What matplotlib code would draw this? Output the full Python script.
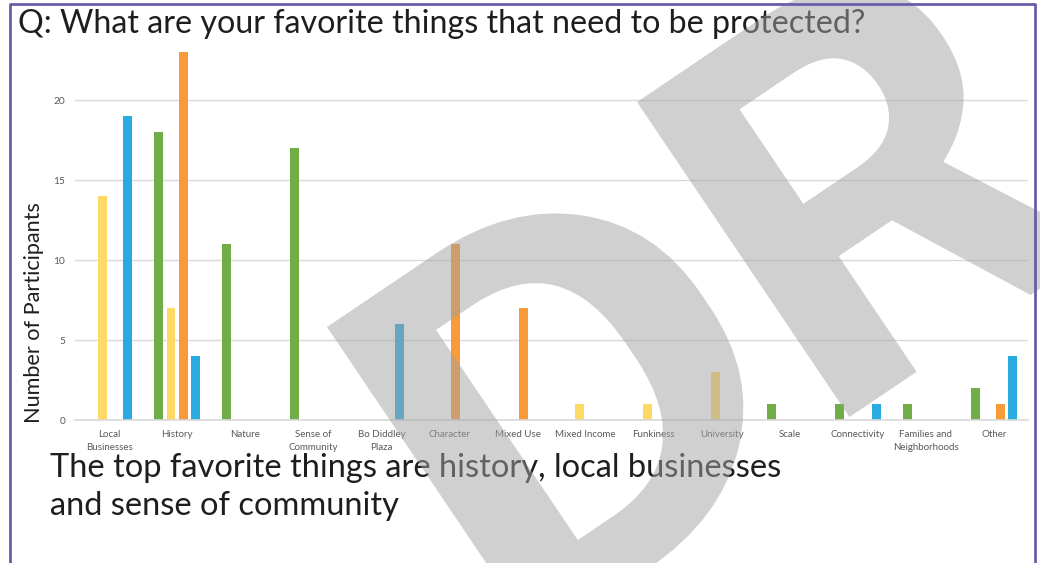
import matplotlib
matplotlib.use('Agg')
import matplotlib.pyplot as plt
import numpy as np
from matplotlib.textpath import TextPath
from matplotlib.font_manager import FontProperties
from matplotlib.patches import PathPatch
from matplotlib.lines import Line2D
import matplotlib.transforms as mtrans

# ---------------- data ----------------
categories = ["Local\nBusinesses", "History", "Nature", "Sense of\nCommunity",
              "Bo Diddley\nPlaza", "Character", "Mixed Use", "Mixed Income",
              "Funkiness", "University", "Scale", "Connectivity",
              "Families and\nNeighborhoods", "Other"]
green = [0, 18, 11, 17, 0, 0, 0, 0, 0, 0, 1, 1, 1, 2]
yellow = [14, 7, 0, 0, 0, 0, 0, 1, 1, 3, 0, 0, 0, 0]
orange = [0, 23, 0, 0, 0, 11, 7, 0, 0, 0, 0, 0, 0, 1]
blue = [19, 4, 0, 0, 6, 0, 0, 0, 0, 0, 0, 1, 0, 4]
y_ticks = [0, 5, 10, 15, 20]

title = "Q: What are your favorite things that need to be protected?"
y_label = "Number of Participants"
caption1 = "The top favorite things are history, local businesses"
caption2 = "and sense of community"
watermark = "DR"

# ---------------- figure ----------------
W, H = 1040, 563
fig = plt.figure(figsize=(W / 100, H / 100), dpi=100)
fig.patch.set_facecolor('white')

ax = fig.add_axes([75 / W, (H - 420) / H, (1028 - 75) / W, 400 / H])
x = np.arange(len(categories))
series = [green, yellow, orange, blue]
colors = ['#70ad47', '#ffd966', '#f89a38', '#29abe2']
offsets = [-0.27, -0.09, 0.09, 0.27]
for vals, c, off in zip(series, colors, offsets):
    ax.bar(x + off, vals, width=0.13, color=c, zorder=2)

ax.set_xlim(-0.5, len(categories) - 0.5)
ax.set_ylim(0, 25)
ax.set_yticks(y_ticks)
ax.set_xticks(x)
ax.set_xticklabels(categories, fontsize=7, color='#595959', family='Lato',
                   linespacing=1.6)
ax.tick_params(axis='y', labelsize=7.3, labelcolor='#595959', length=0, pad=7)
ax.tick_params(axis='x', length=0, pad=7)
for lab in ax.get_yticklabels():
    lab.set_family('Lato')
ax.yaxis.grid(True, color='#d9d9d9', lw=1)
ax.set_axisbelow(True)
for s in ['top', 'left', 'right']:
    ax.spines[s].set_visible(False)
ax.spines['bottom'].set_color('#d9d9d9')
ax.spines['bottom'].set_linewidth(1.2)
ax.patch.set_alpha(0)

# ---------------- texts ----------------
t_title = fig.text(18 / W, 1 - 33 / H, title, ha='left', va='baseline',
                   fontsize=20, family='Lato', color='#1e1e1e')
t_c1 = fig.text(50 / W, 1 - 477 / H, caption1, ha='left', va='baseline',
                fontsize=20, family='Lato', color='#1e1e1e')
t_c2 = fig.text(50 / W, 1 - 515 / H, caption2, ha='left', va='baseline',
                fontsize=20, family='Lato', color='#1e1e1e')
t_yl = fig.text(34 / W, 1 - 313 / H, y_label, ha='center', va='center',
                rotation=90, fontsize=13, family='Lato', color='#1e1e1e')

fig.canvas.draw()
r = fig.canvas.get_renderer()


def fit(t, target, vertical=False):
    bb = t.get_window_extent(r)
    w = bb.height if vertical else bb.width
    t.set_fontsize(t.get_fontsize() * target / w)


fit(t_title, 849)
fit(t_c1, 732)
t_c2.set_fontsize(t_c1.get_fontsize())
fit(t_yl, 220, vertical=True)

# ---------------- frame ----------------
fig.add_artist(Line2D([9.5, 9.5, 1035, 1035], [-20, H - 4, H - 4, -20],
                      transform=mtrans.IdentityTransform(), color='#6b5cab',
                      lw=2, zorder=20))

# ---------------- watermark ----------------
fp = FontProperties(family='Roboto', weight='bold')


def wm_letter(ch, top_left_px, height_px, angle, xstretch=1.0):
    tp = TextPath((0, 0), ch, size=100, prop=fp)
    ext = tp.get_extents()
    s = height_px / ext.height
    a = np.deg2rad(angle)
    bx = top_left_px[0] + height_px * np.sin(a)
    by = top_left_px[1] + height_px * np.cos(a)
    tr = (mtrans.Affine2D().translate(-ext.x0, -ext.y0).scale(s * xstretch, s)
          .rotate_deg(angle).translate(bx, H - by))
    patch = PathPatch(tr.transform_path(tp), facecolor='#a3a3a3', alpha=0.51,
                      edgecolor='none', transform=mtrans.IdentityTransform(),
                      zorder=10)
    fig.add_artist(patch)


wm_letter(watermark[0], (327, 327), 380, 34, xstretch=1.13)
wm_letter(watermark[1], (637, 102), 380, 34, xstretch=1.03)

fig.savefig('out.png', dpi=100)
